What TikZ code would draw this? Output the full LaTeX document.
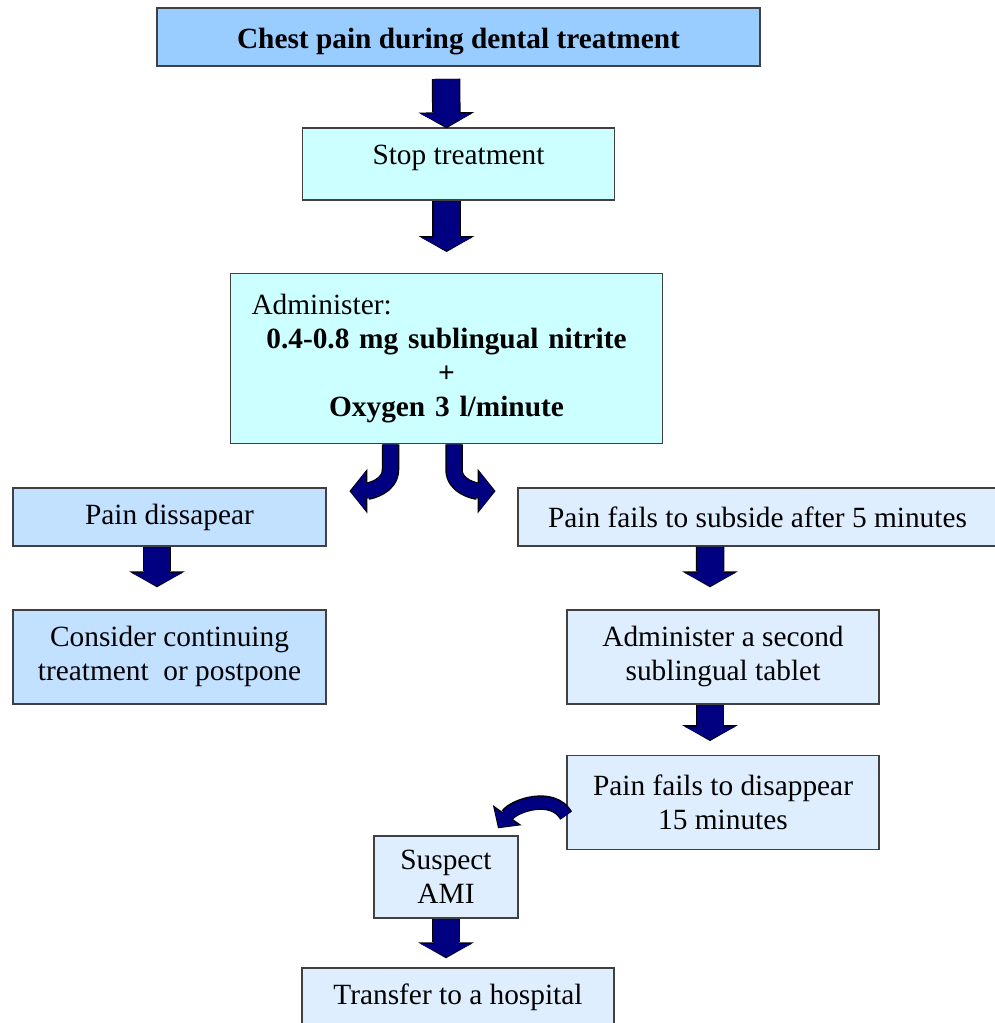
\documentclass[tikz,border=0pt]{standalone}
\usepackage{fontspec}
\setmainfont{Liberation Serif}
\usepackage {tikz}
\usetikzlibrary {positioning}
\usetikzlibrary{shapes,arrows.meta}
\definecolor{topblue}{HTML}{99CCFF}
\definecolor{cyanbox}{HTML}{CCFFFF}
\definecolor{leftblue}{HTML}{C2E0FF}
\definecolor{rightblue}{HTML}{DEEEFF}
\definecolor{arrowblue}{HTML}{000080}
\tikzstyle{block} = [rectangle, draw=black!75, line width=1pt, align=center,
    font=\fontsize{16.7}{19.5}\selectfont]
\tikzstyle{fatline} = [draw=arrowblue, line width=0.52cm,
    -{Triangle[length=0.26cm, width=1.02cm, line width=0pt]},
    preaction={draw=black, line width=0.57cm, shorten >=-0.8pt,
    -{Triangle[length=0.32cm, width=1.12cm, line width=0pt]}}]
\tikzstyle{bendline} = [draw=arrowblue, line width=0.3cm,
    -{Triangle[length=0.3cm, width=0.8cm, line width=0pt]},
    preaction={draw=black, line width=0.35cm, shorten >=-0.8pt,
    -{Triangle[length=0.36cm, width=0.9cm, line width=0pt]}}]
\tikzstyle{smallbend} = [draw=arrowblue, line width=0.24cm,
    -{Triangle[length=0.26cm, width=0.6cm, line width=0pt]},
    preaction={draw=black, line width=0.29cm, shorten >=-0.8pt,
    -{Triangle[length=0.32cm, width=0.7cm, line width=0pt]}}]

\begin{document}
\begin{tikzpicture}
    \useasboundingbox (0,0) rectangle (19.9,-20.46);
    % Place nodes
    \node [block, fill=topblue, minimum width=12.06cm, minimum height=1.16cm, text height=0.6cm] (chest) at (9.17,-0.74) {\bfseries Chest pain during dental treatment};
    \node [block, fill=cyanbox, minimum width=6.24cm, minimum height=1.44cm, text depth=0.35cm, below=1.2cm of chest] (stop) {Stop treatment};
    \node [block, fill=cyanbox, minimum width=8.64cm, minimum height=3.4cm, text width=8cm, below=1.44cm of stop, xshift=-0.24cm] (admin) {\makebox[8cm][l]{\hspace{0.1cm}Administer:}\\ \textbf{0.4-0.8 mg sublingual nitrite}\\ \textbf{+}\\ \textbf{Oxygen 3 l/minute}};
    \node [block, fill=leftblue, minimum width=6.26cm, minimum height=1.16cm] (dissapear) at (3.39,-10.34) {Pain dissapear};
    \node [block, fill=leftblue, minimum width=6.26cm, minimum height=1.88cm, below=1.24cm of dissapear] (consider) {Consider continuing\\ treatment~~or postpone};
    \node [block, fill=rightblue, minimum width=9.58cm, minimum height=1.16cm] (fails5) at (15.15,-10.34) {Pain fails to subside after 5 minutes};
    \node [block, fill=rightblue, minimum width=6.24cm, minimum height=1.88cm, below=1.24cm of fails5, xshift=-0.69cm] (second) {Administer a second\\ sublingual tablet};
    \node [block, fill=rightblue, minimum width=6.24cm, minimum height=1.88cm, below=1.0cm of second] (fails15) {Pain fails to disappear\\ 15 minutes};
    \node [block, fill=rightblue, minimum width=2.88cm, minimum height=1.64cm] (suspect) at (8.92,-17.54) {Suspect\\ AMI};
    \node [block, fill=rightblue, minimum width=6.24cm, minimum height=1.2cm, below=0.96cm of suspect, xshift=0.24cm] (transfer) {Transfer to a hospital};
    % arrows
    \path [fatline] ([xshift=-0.25cm,yshift=-0.24cm]chest.south) -- ([xshift=-0.24cm]stop.north);
    \path [fatline] ([xshift=-0.24cm]stop.south) -- ([yshift=0.44cm]admin.north);
    \path [bendline] ([xshift=-1.12cm]admin.south) -- ++(0,-0.5) to[out=-90,in=0] ([xshift=0.48cm,yshift=-0.08cm]dissapear.north east);
    \path [bendline] ([xshift=0.15cm]admin.south) -- ++(0,-0.5) to[out=-90,in=180] ([xshift=-0.46cm,yshift=-0.08cm]fails5.north west);
    \path [fatline] ([xshift=-0.25cm]dissapear.south) -- ([xshift=-0.25cm,yshift=0.46cm]consider.north);
    \path [fatline] ([xshift=-0.95cm]fails5.south) -- ([xshift=-0.26cm,yshift=0.46cm]second.north);
    \path [fatline] ([xshift=-0.26cm]second.south) -- ([xshift=-0.26cm,yshift=0.3cm]fails15.north);
    \path [smallbend] ([yshift=-0.26cm]fails15.west) to[out=120,in=55] ([xshift=-0.4cm,yshift=0.16cm]suspect.north east);
    \path [fatline] (suspect.south) -- ([xshift=-0.24cm,yshift=0.2cm]transfer.north);

\end{tikzpicture}
\end{document}
